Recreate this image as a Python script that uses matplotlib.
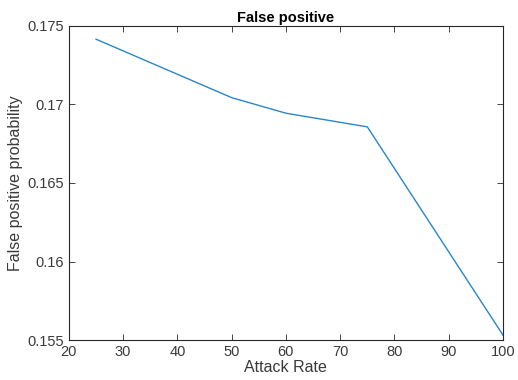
import matplotlib
matplotlib.use("Agg")
import matplotlib.pyplot as plt

# data
attack_rate = [25, 50, 60, 75, 100]
fp_prob = [0.17415, 0.17043, 0.16944, 0.16857, 0.15532]

x_ticks = [20, 30, 40, 50, 60, 70, 80, 90, 100]
y_ticks = [0.155, 0.16, 0.165, 0.17, 0.175]
y_labels = ["0.155", "0.16", "0.165", "0.17", "0.175"]

plt.rcParams['font.family'] = ['Liberation Sans', 'DejaVu Sans']

fig = plt.figure(figsize=(5.18, 3.80), dpi=100)
ax = fig.add_axes([0.133, 0.105, 0.838, 0.827])

ax.plot(attack_rate, fp_prob, color='#2a86c8', linewidth=1.0)

ax.set_xlim(20, 100)
ax.set_ylim(0.155, 0.175)
ax.set_xticks(x_ticks)
ax.set_yticks(y_ticks)
ax.set_yticklabels(y_labels)
ax.tick_params(direction='in', top=True, right=True, length=4, width=0.6,
               labelsize=10.5, colors='#262626', labelcolor='#3a3a3a')
for s in ax.spines.values():
    s.set_color('#262626')
    s.set_linewidth(0.8)

ax.set_title('False positive', fontsize=10.5, fontweight='bold', pad=3)
ax.set_xlabel('Attack Rate', fontsize=11.5, color='#3a3a3a', labelpad=1)
ax.set_ylabel('False positive probability', fontsize=11.5, color='#3a3a3a', labelpad=3)

fig.savefig('out.png', dpi=100)
